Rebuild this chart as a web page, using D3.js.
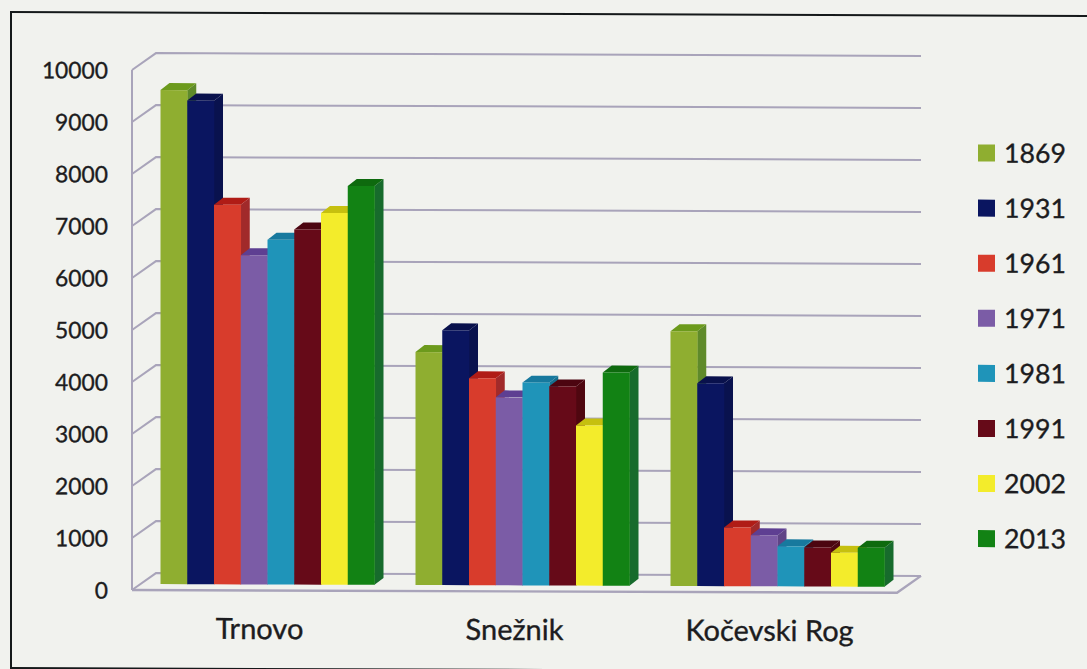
<!DOCTYPE html>
<html>
<head>
<meta charset="utf-8">
<script src="https://cdnjs.cloudflare.com/ajax/libs/d3/7.8.5/d3.min.js"></script>
<style>
  html, body { margin: 0; padding: 0; background: #f1f2ee; }
  svg { display: block; }
  text { font-family: Lato, "Open Sans", sans-serif; fill: #1c1c20; }
</style>
</head>
<body>
<svg id="chart" width="1087" height="669"></svg>
<script>
// Population by plateau and census year
const categories = ["Trnovo", "Snežnik", "Kočevski Rog"];
const years = ["1869", "1931", "1961", "1971", "1981", "1991", "2002", "2013"];
const yTicks = [0, 1000, 2000, 3000, 4000, 5000, 6000, 7000, 8000, 9000, 10000];

const trnovo = [9500, 9300, 7300, 6330, 6630, 6830, 7150, 7670];
const sneznik = [4480, 4900, 3980, 3615, 3900, 3830, 3080, 4100];
const kocevskiRog = [4900, 3900, 1130, 980, 770, 750, 650, 750];
const seriesByCategory = [trnovo, sneznik, kocevskiRog];

// Face shades per year
const frontColors = ["#8fae30", "#0a1560", "#d83c2c", "#7b5ca6", "#1f94b9", "#660a18", "#f3ec2b", "#128214"];
const topColors   = ["#6c9a1c", "#09114c", "#b01c16", "#5e3f92", "#17799e", "#4c0510", "#c6c00f", "#0e6a0e"];
const sideColors  = ["#5f8a2a", "#09124e", "#a12a2a", "#5f4486", "#16708f", "#4f0710", "#bdb820", "#176b2c"];

// Oblique projection of the chart box
const wallDx = 24, wallDy = 17;
const barInsetX = 8, barInsetY = 6;
const barDx = 9, barDy = 7;
const groupWidth = 214;

const svg = d3.select("#chart");
// The whole sheet leans slightly, rising to the left
const root = svg.append("g").attr("transform", "skewY(0.21)");

root.append("rect")
  .attr("x", 11).attr("y", 12).attr("width", 1100).attr("height", 656)
  .attr("fill", "none").attr("stroke", "#15191a").attr("stroke-width", 2);

const y = d3.scaleLinear().domain([0, 10000]).range([589.5, 69.5]);
const x = d3.scaleBand().domain(categories).range([132, 897]);
const xBar = d3.scaleBand().domain(years).range([0, groupWidth]);

// Walls and floor
const grid = root.append("g")
  .attr("fill", "none").attr("stroke", "#a9a4ba").attr("stroke-width", 2);

grid.selectAll("path.wall").data(yTicks).join("path")
  .attr("class", "wall")
  .attr("d", d => {
    const p = d3.path();
    p.moveTo(x.range()[0], y(d));
    p.lineTo(x.range()[0] + wallDx, y(d) - wallDy);
    p.lineTo(x.range()[1] + wallDx, y(d) - wallDy);
    return p.toString();
  });

grid.append("line")
  .attr("x1", x.range()[0]).attr("x2", x.range()[0])
  .attr("y1", y(0)).attr("y2", y(10000));

grid.append("path").attr("d", () => {
  const p = d3.path();
  p.moveTo(x.range()[0], y(0));
  p.lineTo(x.range()[1], y(0));
  p.lineTo(x.range()[1] + wallDx, y(0) - wallDy);
  return p.toString();
}).attr("stroke-width", 2.4);

// Bars, left to right so each one covers its neighbour's side face
const line = d3.line();
categories.forEach((cat, c) => {
  const start = x(cat) + x.bandwidth() / 2 + barInsetX - groupWidth / 2;
  const g = root.append("g").attr("class", "group");
  years.forEach((yr, i) => {
    const left = start + xBar(yr);
    const right = left + xBar.bandwidth();
    const top = y(seriesByCategory[c][i]) - barInsetY;
    const base = y(0) - barInsetY;
    g.append("path").attr("fill", sideColors[i])
      .attr("d", line([[right, top], [right + barDx, top - barDy], [right + barDx, base - barDy], [right, base]]) + "Z");
    g.append("path").attr("fill", topColors[i])
      .attr("d", line([[left, top], [left + barDx, top - barDy], [right + barDx, top - barDy], [right, top]]) + "Z");
    g.append("rect").attr("fill", frontColors[i])
      .attr("x", left).attr("y", top)
      .attr("width", right - left + 0.3).attr("height", base - top);
  });
});

// Shared text treatment: a hairline stroke gives the heavier printed weight
const inkText = sel => sel
  .style("font-family", "Lato, 'Open Sans', sans-serif")
  .style("fill", "#1c1c20")
  .style("stroke", "#1c1c20")
  .style("stroke-width", 0.35);

// Value axis
const yAxis = root.append("g")
  .attr("transform", "translate(108,0.8)")
  .call(d3.axisLeft(y).tickValues(yTicks).tickSize(0).tickPadding(0).tickFormat(d3.format("d")));
yAxis.select(".domain").remove();
yAxis.selectAll("text").attr("font-size", 22.8).call(inkText);

// Category axis
const xAxis = root.append("g")
  .attr("transform", "translate(0,638)")
  .call(d3.axisBottom(x).tickSize(0).tickPadding(0));
xAxis.select(".domain").remove();
xAxis.selectAll("text")
  .attr("y", 0).attr("dy", 0)
  .attr("font-size", 29)
  .call(inkText);

// Legend
const legendY = d3.scalePoint().domain(years).range([149.4, 535]);
const legend = root.append("g");
legend.selectAll("rect").data(years).join("rect")
  .attr("x", 978).attr("y", d => legendY(d) - 8.5)
  .attr("width", 17).attr("height", 17)
  .attr("fill", (d, i) => frontColors[i]);
legend.selectAll("text").data(years).join("text")
  .attr("x", 1004).attr("y", d => legendY(d))
  .attr("dy", "0.36em")
  .attr("font-size", 26.7)
  .call(inkText)
  .text(d => d);
</script>
</body>
</html>
